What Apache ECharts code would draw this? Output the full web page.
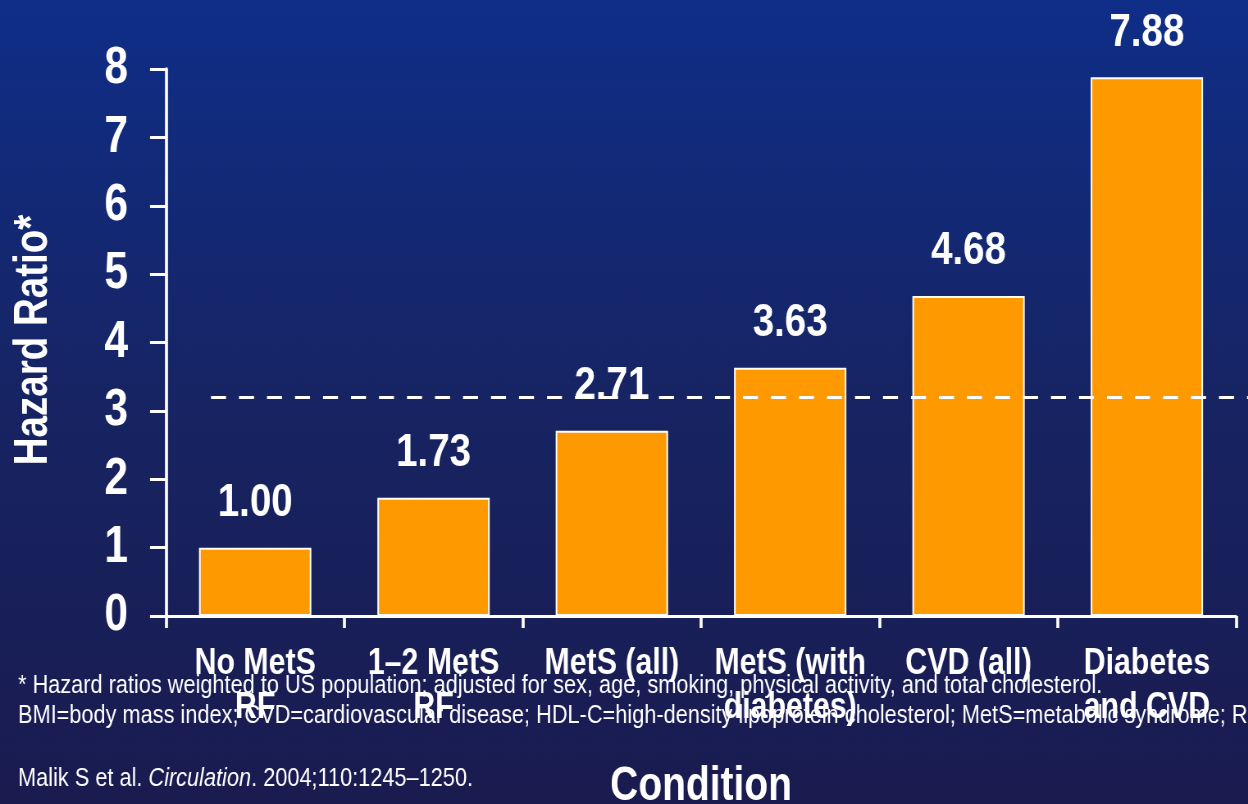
<!DOCTYPE html>
<html>
<head>
<meta charset="utf-8">
<script src="https://cdn.jsdelivr.net/npm/echarts@6/dist/echarts.min.js"></script>
<style>
  html, body { margin: 0; padding: 0; width: 1248px; height: 804px; overflow: hidden; background: #1a1b4f; }
  /* The slide typography is a condensed face; the chart is laid out wide and
     narrowed horizontally so every label gets the same condensed look. */
  #chart { width: 1522px; height: 804px; transform: scaleX(0.82); transform-origin: 0 0; }
</style>
</head>
<body>
<div id="chart"></div>
<script>
// Hazard ratio by condition (Malik S et al., Circulation 2004)
const categories = ['No MetS\nRF', '1–2 MetS\nRF', 'MetS (all)', 'MetS (with\ndiabetes)', 'CVD (all)', 'Diabetes\nand CVD'];
const hazardRatios = [1.00, 1.73, 2.71, 3.63, 4.68, 7.88];
const yTicks = [0, 1, 2, 3, 4, 5, 6, 7, 8];
const referenceLevel = [3.2];
const yAxisTitle = ['Hazard Ratio*'];
const xAxisTitle = ['Condition'];
const footnotes = [
  '* Hazard ratios weighted to US population; adjusted for sex, age, smoking, physical activity, and total cholesterol.',
  'BMI=body mass index; CVD=cardiovascular disease; HDL-C=high-density lipoprotein cholesterol; MetS=metabolic syndrome; RF=risk factor.'
];
const citation = ['Malik S et al. ', 'Circulation', '. 2004;110:1245–1250.'];

const SQUEEZE = 0.82;           // horizontal narrowing applied to the chart box
const FONT = '"Liberation Sans", Arial, sans-serif';
const WHITE = '#ffffff';
const wx = v => v / SQUEEZE;    // horizontal length in layout units

const chart = echarts.init(document.getElementById('chart'), null, { renderer: 'canvas' });

function buildOption(refY) {
  return {
    backgroundColor: new echarts.graphic.LinearGradient(0, 0, 0, 1, [
      { offset: 0, color: '#0f2e88' },
      { offset: 0.5, color: '#172463' },
      { offset: 1, color: '#1a1b4f' }
    ]),
    animation: false,
    grid: { left: wx(166), right: wx(12), top: 69, bottom: 188, containLabel: false, outerBoundsMode: 'none' },
    xAxis: {
      type: 'category',
      data: categories,
      boundaryGap: true,
      name: xAxisTitle[0],
      nameLocation: 'middle',
      nameGap: 147,
      nameTextStyle: { color: WHITE, fontFamily: FONT, fontWeight: 'bold', fontSize: 47.5, lineHeight: 47.5 },
      axisLine: { lineStyle: { color: WHITE, width: 3 } },
      axisTick: { show: true, alignWithLabel: false, length: 12, lineStyle: { color: WHITE, width: wx(3) } },
      axisLabel: {
        interval: 0, margin: 26, color: WHITE, fontFamily: FONT, fontWeight: 'bold',
        fontSize: 37, lineHeight: 44
      },
      splitLine: { show: false }
    },
    yAxis: {
      type: 'value',
      min: yTicks[0],
      max: yTicks[yTicks.length - 1],
      interval: 1,
      axisLine: { show: true, lineStyle: { color: WHITE, width: wx(3) } },
      axisTick: { show: true, length: wx(16), lineStyle: { color: WHITE, width: 3 } },
      axisLabel: { margin: wx(38), color: WHITE, fontFamily: FONT, fontWeight: 'bold', fontSize: 52 },
      splitLine: { show: false }
    },
    series: [{
      type: 'bar',
      data: hazardRatios,
      barWidth: '63%',
      itemStyle: { color: '#ff9900', borderColor: WHITE, borderWidth: 2 },
      label: {
        show: true, position: 'top', distance: 21,
        color: WHITE, fontFamily: FONT, fontWeight: 'bold', fontSize: 47, lineHeight: 47,
        formatter: p => p.value.toFixed(2)
      },
      markLine: refY == null ? undefined : {
        silent: true,
        symbol: ['none', 'none'],
        label: { show: false },
        lineStyle: { color: WHITE, width: 3, type: [wx(15), wx(13)] },
        data: [[{ x: wx(211), y: refY }, { x: wx(1248), y: refY }]]
      }
    }],
    graphic: [
      {
        // rotated y-axis title, kept at natural thickness but condensed along its length
        type: 'text', x: wx(34), y: 340, rotation: Math.PI / 2,
        scaleX: SQUEEZE, scaleY: 1 / SQUEEZE, silent: true,
        style: {
          text: yAxisTitle[0], fill: WHITE, align: 'center', verticalAlign: 'middle',
          font: 'bold 47px ' + FONT
        }
      },
      {
        type: 'text', left: wx(18), top: 672, silent: true,
        style: { text: footnotes[0], fill: WHITE, font: '26.5px ' + FONT }
      },
      {
        type: 'text', left: wx(18), top: 702, silent: true,
        style: { text: footnotes[1], fill: WHITE, font: '26.5px ' + FONT }
      },
      {
        type: 'text', left: wx(18), top: 765, silent: true,
        style: {
          text: '{n|' + citation[0] + '}{i|' + citation[1] + '}{n|' + citation[2] + '}',
          rich: {
            n: { fill: WHITE, fontFamily: FONT, fontSize: 26.5 },
            i: { fill: WHITE, fontFamily: FONT, fontSize: 26.5, fontStyle: 'italic' }
          }
        }
      }
    ]
  };
}

chart.setOption(buildOption(null));
const refPixelY = chart.convertToPixel({ yAxisIndex: 0 }, referenceLevel[0]);
chart.setOption(buildOption(refPixelY));
</script>
</body>
</html>
